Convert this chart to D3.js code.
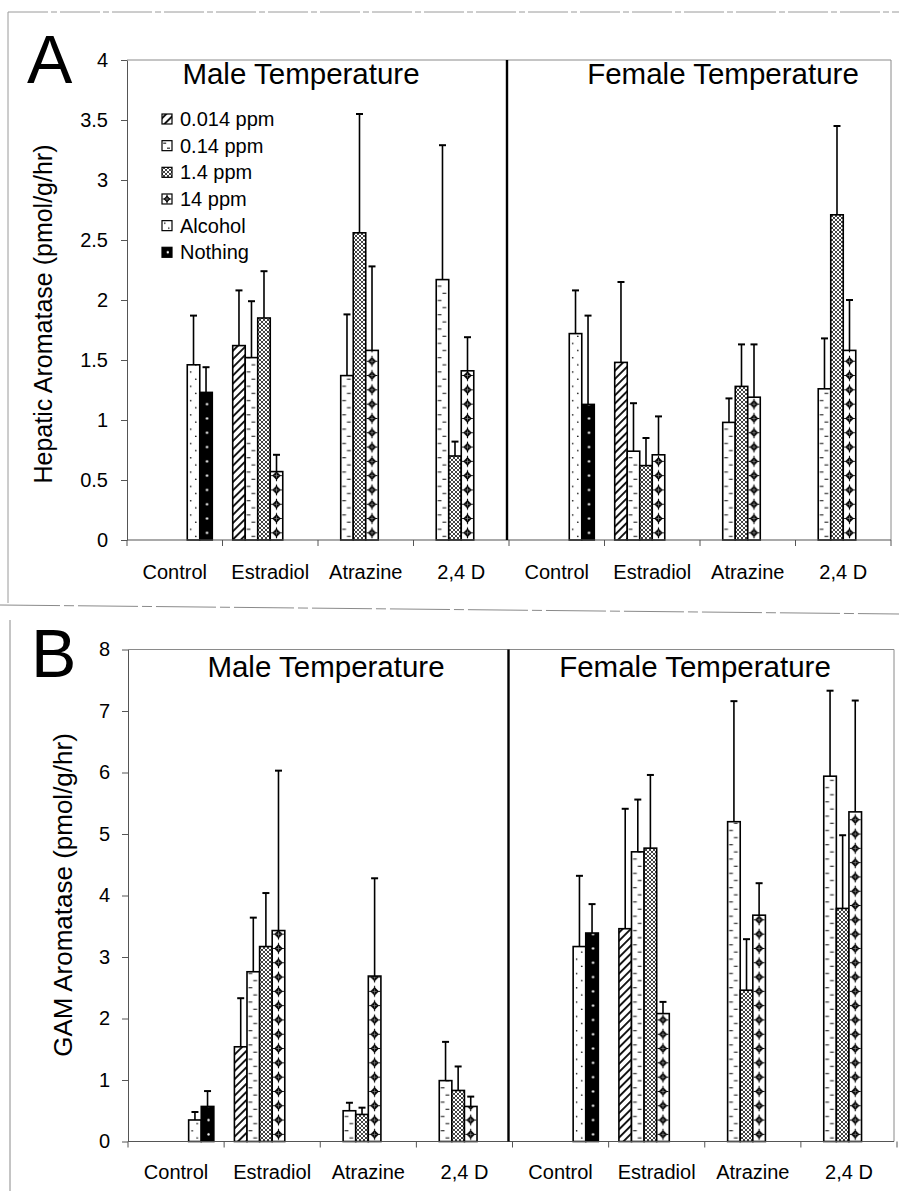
<!DOCTYPE html>
<html><head><meta charset="utf-8">
<script src="https://cdn.jsdelivr.net/npm/d3@7"></script>
<style>
body{margin:0;background:#fff}
svg{display:block}
text{font-family:"Liberation Sans",Arial,Helvetica,sans-serif;fill:#000}
</style>
</head><body>
<svg id="chart" width="899" height="1191"></svg>
<script>
// ---------------- DATA ----------------
const categories = ["Control", "Estradiol", "Atrazine", "2,4 D"];
const temperatures = ["Male Temperature", "Female Temperature"];
const series = ["0.014 ppm", "0.14 ppm", "1.4 ppm", "14 ppm", "Alcohol", "Nothing"];
const seriesFill = ["hatch", "dash", "cross", "diamond", "dots", "bdots"];

// Panel A: Hepatic Aromatase (pmol/g/hr) — rows = categories, cols = series
const hepaticMaleMean = [
  [null, null, null, null, 1.46, 1.23],
  [1.62, 1.52, 1.85, 0.57, null, null],
  [null, 1.37, 2.56, 1.58, null, null],
  [null, 2.17, 0.70, 1.41, null, null]
];
const hepaticMaleSE = [
  [null, null, null, null, 0.41, 0.21],
  [0.46, 0.47, 0.39, 0.14, null, null],
  [null, 0.51, 0.99, 0.70, null, null],
  [null, 1.12, 0.12, 0.28, null, null]
];
const hepaticFemaleMean = [
  [null, null, null, null, 1.72, 1.13],
  [1.48, 0.74, 0.62, 0.71, null, null],
  [null, 0.98, 1.28, 1.19, null, null],
  [null, 1.26, 2.71, 1.58, null, null]
];
const hepaticFemaleSE = [
  [null, null, null, null, 0.36, 0.74],
  [0.67, 0.40, 0.23, 0.32, null, null],
  [null, 0.20, 0.35, 0.44, null, null],
  [null, 0.42, 0.74, 0.42, null, null]
];

// Panel B: GAM Aromatase (pmol/g/hr)
const gamMaleMean = [
  [null, null, null, null, 0.35, 0.57],
  [1.54, 2.76, 3.17, 3.43, null, null],
  [null, 0.50, 0.44, 2.69, null, null],
  [null, 0.99, 0.83, 0.57, null, null]
];
const gamMaleSE = [
  [null, null, null, null, 0.13, 0.25],
  [0.79, 0.88, 0.87, 2.60, null, null],
  [null, 0.13, 0.11, 1.59, null, null],
  [null, 0.63, 0.39, 0.16, null, null]
];
const gamFemaleMean = [
  [null, null, null, null, 3.17, 3.39],
  [3.46, 4.71, 4.77, 2.08, null, null],
  [null, 5.20, 2.46, 3.68, null, null],
  [null, 5.94, 3.79, 5.36, null, null]
];
const gamFemaleSE = [
  [null, null, null, null, 1.15, 0.47],
  [1.95, 0.85, 1.19, 0.19, null, null],
  [null, 1.96, 0.83, 0.52, null, null],
  [null, 1.39, 1.19, 1.81, null, null]
];

const hepaticTicks = [0, 0.5, 1, 1.5, 2, 2.5, 3, 3.5, 4];
const gamTicks = [0, 1, 2, 3, 4, 5, 6, 7, 8];

// ---------------- DRAWING ----------------
const svg = d3.select("#chart");
const defs = svg.append("defs");
const FONT = '"Liberation Sans",Arial,Helvetica,sans-serif';

// generic patterns
const hatch = defs.append("pattern").attr("id", "pat-hatch")
  .attr("patternUnits", "userSpaceOnUse").attr("width", 5.8).attr("height", 5.8)
  .attr("patternTransform", "rotate(45)");
hatch.append("rect").attr("width", 5.8).attr("height", 5.8).attr("fill", "#fff");
hatch.append("rect").attr("width", 1.9).attr("height", 5.8).attr("fill", "#111");

const cross = defs.append("pattern").attr("id", "pat-cross")
  .attr("patternUnits", "userSpaceOnUse").attr("width", 4).attr("height", 4);
cross.append("rect").attr("width", 4).attr("height", 4).attr("fill", "#fff");
cross.append("path").attr("d", "M0,0L4,4M4,0L0,4M-1,3L1,5M3,-1L5,1M-1,1L1,-1M3,5L5,3")
  .attr("stroke", "#222").attr("stroke-width", 0.85);

let patCount = 0;
function makeFill(type, x, y0, w, period) {
  if (type === "hatch") return "url(#pat-hatch)";
  if (type === "cross") return "url(#pat-cross)";
  const id = "pb" + (patCount++);
  const h = period;
  const p = defs.append("pattern").attr("id", id).attr("patternUnits", "userSpaceOnUse")
    .attr("x", x).attr("y", y0).attr("width", w).attr("height", h);
  if (type === "bdots") {
    p.append("rect").attr("width", w).attr("height", h).attr("fill", "#000");
    p.append("circle").attr("cx", w * 0.58).attr("cy", h / 2).attr("r", 1.2).attr("fill", "#fff");
  } else {
    p.append("rect").attr("width", w).attr("height", h).attr("fill", "#fff");
  }
  if (type === "dots") {
    p.append("circle").attr("cx", w * 0.28).attr("cy", h * 0.25).attr("r", 0.8).attr("fill", "#000");
    p.append("circle").attr("cx", w * 0.68).attr("cy", h * 0.75).attr("r", 0.8).attr("fill", "#000");
  } else if (type === "dash") {
    p.append("path").attr("d", `M${w*0.12},${h*0.25}H${w*0.42}M${w*0.5},${h*0.75}H${w*0.8}`)
      .attr("stroke", "#000").attr("stroke-width", 1);
  } else if (type === "diamond") {
    const cx = w / 2, cy = h / 2, r = Math.min(w, h) * 0.34;
    p.append("path").attr("d", `M${cx},${cy-r}L${cx+r},${cy}L${cx},${cy+r}L${cx-r},${cy}Z`).attr("fill", "#000");
    p.append("path").attr("d", `M${cx-r*1.3},${cy}H${cx+r*1.3}M${cx},${cy-r*1.3}V${cy+r*1.3}`)
      .attr("stroke", "#000").attr("stroke-width", 1.1);
    p.append("path").attr("d", `M${cx-r*0.5},${cy}H${cx+r*0.5}M${cx},${cy-r*0.5}V${cy+r*0.5}`)
      .attr("stroke", "#888").attr("stroke-width", 0.7);
  }
  return `url(#${id})`;
}

function drawPanel(cfg) {
  const g = svg.append("g");
  const y = d3.scaleLinear().domain([0, cfg.ticks[cfg.ticks.length - 1]]).range([cfg.bottom, cfg.top]);
  const slots = d3.range(8);
  const outer = d3.scaleBand().domain(slots).range([cfg.left, cfg.right]).padding(0);
  const bw = outer.bandwidth();
  const inner = d3.scaleBand().domain(d3.range(series.length)).range([bw * 0.107, bw * 0.893]).padding(0);
  const w = inner.bandwidth();

  // frame lines (top & right) of the plot area
  g.append("path").attr("d", `M${cfg.left},${cfg.top}H${cfg.frameRight}V${cfg.bottom}`)
    .attr("fill", "none").attr("stroke", "#8a8a8a").attr("stroke-width", 1);

  // records
  const recs = [];
  cfg.groups.forEach((grp, gi) => {
    grp.mean.forEach((row, ci) => {
      row.forEach((v, si) => {
        if (v !== null) recs.push({ slot: gi * 4 + ci, s: si, mean: v, se: grp.se[ci][si] });
      });
    });
  });

  // bars
  g.selectAll("rect.bar").data(recs).join("rect").attr("class", "bar")
    .attr("x", d => outer(d.slot) + inner(d.s))
    .attr("y", d => y(d.mean))
    .attr("width", w)
    .attr("height", d => y(0) - y(d.mean))
    .attr("fill", d => makeFill(seriesFill[d.s], outer(d.slot) + inner(d.s), y(0), w, 14.3))
    .attr("stroke", "#000").attr("stroke-width", 1.6);

  // error bars (upper only)
  const eb = g.selectAll("g.err").data(recs).join("g").attr("class", "err");
  eb.append("line")
    .attr("x1", d => outer(d.slot) + inner(d.s) + w / 2)
    .attr("x2", d => outer(d.slot) + inner(d.s) + w / 2)
    .attr("y1", d => y(d.mean)).attr("y2", d => y(d.mean + d.se))
    .attr("stroke", "#000").attr("stroke-width", 1.6);
  eb.append("line")
    .attr("x1", d => outer(d.slot) + inner(d.s) + w / 2 - 3.5)
    .attr("x2", d => outer(d.slot) + inner(d.s) + w / 2 + 3.5)
    .attr("y1", d => y(d.mean + d.se)).attr("y2", d => y(d.mean + d.se))
    .attr("stroke", "#000").attr("stroke-width", 2);

  // y axis
  const ya = g.append("g").attr("transform", `translate(${cfg.left},0)`)
    .call(d3.axisLeft(y).tickValues(cfg.ticks).tickFormat(d3.format("")).tickSize(6).tickSizeOuter(0).tickPadding(cfg.tickPad));
  ya.select(".domain").attr("stroke", "#555");
  ya.selectAll(".tick line").attr("stroke", "#555");
  ya.selectAll("text").attr("font-size", 20).attr("font-family", FONT).attr("fill", "#000");

  // x axis baseline and boundary ticks
  g.append("line").attr("x1", cfg.left).attr("x2", cfg.frameRight).attr("y1", y(0)).attr("y2", y(0))
    .attr("stroke", "#555").attr("stroke-width", 1.2);
  g.selectAll("line.xt").data(d3.range(9)).join("line").attr("class", "xt")
    .attr("x1", i => cfg.left + i * bw).attr("x2", i => cfg.left + i * bw)
    .attr("y1", y(0)).attr("y2", y(0) + 6).attr("stroke", "#555").attr("stroke-width", 1);
  g.selectAll("text.xl").data(slots).join("text").attr("class", "xl")
    .attr("x", s => outer(s) + bw / 2).attr("y", y(0) + cfg.xLabelDy)
    .attr("text-anchor", "middle").attr("font-size", 20)
    .text(s => categories[s % 4]);

  // divider between temperatures
  g.append("line").attr("x1", outer(4) - cfg.divShift).attr("x2", outer(4) - cfg.divShift)
    .attr("y1", cfg.top).attr("y2", y(0)).attr("stroke", "#000").attr("stroke-width", 2.4);

  // temperature titles
  g.selectAll("text.tt").data(temperatures).join("text").attr("class", "tt")
    .attr("x", (t, i) => cfg.titleX[i]).attr("y", cfg.titleY)
    .attr("text-anchor", "middle").attr("font-size", 29.5).text(t => t);

  // panel letter
  g.append("text").attr("x", cfg.letterX).attr("y", cfg.letterY).attr("font-size", 68).text(cfg.letter);

  // y title
  g.append("text").attr("transform", `translate(${cfg.yTitleX},${cfg.yTitleY}) rotate(-90)`)
    .attr("text-anchor", "middle").attr("font-size", cfg.yTitleSize).text(cfg.yTitle);

  return { y, outer, inner };
}

// scan frame lines
svg.append("path").attr("d", "M8,12H899").attr("stroke", "#9a9a9a").attr("stroke-width", 1).attr("stroke-dasharray", "40,3,6,3");
svg.append("path").attr("d", "M8,12V603").attr("stroke", "#9a9a9a").attr("stroke-width", 1);
svg.append("path").attr("d", "M0,605L899,614").attr("stroke", "#8a8a8a").attr("stroke-width", 1).attr("stroke-dasharray", "60,4,10,4");
svg.append("path").attr("d", "M10,620V1191").attr("stroke", "#8a8a8a").attr("stroke-width", 1);

// Panel A
drawPanel({
  top: 60, bottom: 540, left: 127, right: 891, frameRight: 891,
  ticks: hepaticTicks, tickPad: 13,
  groups: [{ mean: hepaticMaleMean, se: hepaticMaleSE }, { mean: hepaticFemaleMean, se: hepaticFemaleSE }],
  xLabelDy: 39, divShift: 2,
  titleX: [301, 723], titleY: 84,
  letter: "A", letterX: 27, letterY: 83,
  yTitle: "Hepatic Aromatase (pmol/g/hr)", yTitleX: 52, yTitleY: 314, yTitleSize: 25
});

// Panel B
drawPanel({
  top: 649.5, bottom: 1141.5, left: 128, right: 897, frameRight: 894,
  ticks: gamTicks, tickPad: 12,
  groups: [{ mean: gamMaleMean, se: gamMaleSE }, { mean: gamFemaleMean, se: gamFemaleSE }],
  xLabelDy: 37, divShift: 4,
  titleX: [326, 695], titleY: 677,
  letter: "B", letterX: 31, letterY: 677,
  yTitle: "GAM Aromatase (pmol/g/hr)", yTitleX: 72, yTitleY: 895, yTitleSize: 26
});

// Legend (panel A)
const legend = svg.append("g");
const legY = d3.scalePoint().domain(series).range([119, 252.3]);
series.forEach((s, i) => {
  const yy = legY(s);
  legend.append("rect").attr("x", 162).attr("y", yy - 5).attr("width", 10).attr("height", 10)
    .attr("fill", makeFill(seriesFill[i], 162, yy - 5, 10, 10))
    .attr("stroke", "#000").attr("stroke-width", 1.2);
  legend.append("text").attr("x", 180).attr("y", yy + 7).attr("font-size", 20).text(s);
});
</script>
</body></html>
